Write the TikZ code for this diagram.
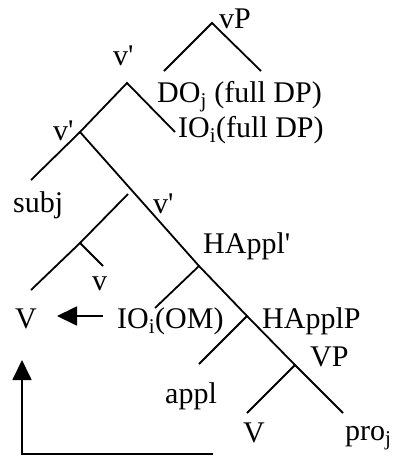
\documentclass[tikz,border=0pt]{standalone}
\usepackage{fontspec}
\setmainfont{Liberation Serif}
\usepackage{tikz}
\usetikzlibrary{arrows.meta}
\tikzset{
	lbl/.style={inner sep=0pt, anchor=base west},
	br/.style={line width=1.8pt},
	arr/.style={line width=1.8pt, -{Triangle[length=20pt, width=19pt]}}
}

\begin{document}
\begin{tikzpicture}[
        x=1pt, y=-1pt,
        font=\fontsize{30}{36}\selectfont,
        lbl/.style={inner sep=0pt, anchor=base west},
        br/.style={line width=1.8pt},
        arr/.style={line width=1.8pt, -{Triangle[length=20pt, width=19pt]}}
    ]
        \useasboundingbox (0, 0) rectangle (396, 456);

        \node[lbl] (vP) at (219, 28) {vP};
        \node[lbl] (vbar-a) at (113, 65) {v\textquotesingle};
        \node[lbl] (do) at (157, 102) {DO\textsubscript{j} (full DP)};
        \node[lbl] (io) at (178, 137) {IO\textsubscript{i}(full DP)};
        \node[lbl] (vbar-b) at (53, 140) {v\textquotesingle};
        \node[lbl] (subj) at (13, 212) {subj};
        \node[lbl] (vbar-c) at (153, 213) {v\textquotesingle};
        \node[lbl] (happl) at (203, 253) {HAppl\textquotesingle};
        \node[lbl] (vsm) at (92, 290) {v};
        \node[lbl] (vl) at (15, 328) {V};
        \node[lbl] (iom) at (117, 328) {IO\textsubscript{i}(OM)};
        \node[lbl] (happlp) at (262, 328) {HApplP};
        \node[lbl] (VP) at (310, 366) {VP};
        \node[lbl] (appl) at (165, 403) {appl};
        \node[lbl] (vlow) at (243, 442) {V};
        \node[lbl] (pro) at (345, 440) {pro\textsubscript{j}};

        \coordinate (vP-top) at (212, 23);
        \coordinate (vP-l) at (164, 71);
        \coordinate (vP-r) at (261, 71);
        \coordinate (va-top) at (127, 83);
        \coordinate (va-r) at (175, 132);
        \coordinate (vb-top) at (80, 132);
        \coordinate (subj-end) at (31, 180);
        \coordinate (vc-top) at (128, 194);
        \coordinate (v-join) at (80, 243);
        \coordinate (v-end) at (103, 266);
        \coordinate (V-end) at (31, 290);
        \coordinate (ha-top) at (199, 266);
        \coordinate (io-end) at (155, 308);
        \coordinate (hp-top) at (247, 316);
        \coordinate (appl-end) at (199, 364);
        \coordinate (VP-top) at (295, 365);
        \coordinate (V-low) at (247, 413);
        \coordinate (pro-end) at (343, 413);

        \coordinate (om-tail) at (103, 316);
        \coordinate (om-tip) at (57, 316);
        \coordinate (mv-start) at (213, 454);
        \coordinate (mv-tip) at (22, 360);

        \draw[br] (vP-l) -- (vP-top) -- (vP-r);
        \draw[br] (subj-end) -- (vb-top) -- (va-top) -- (va-r);
        \draw[br] (vb-top) -- (ha-top) -- (hp-top) -- (VP-top) -- (pro-end);
        \draw[br] (vc-top) -- (v-join) -- (V-end);
        \draw[br] (v-join) -- (v-end);
        \draw[br] (ha-top) -- (io-end);
        \draw[br] (hp-top) -- (appl-end);
        \draw[br] (VP-top) -- (V-low);

        \draw[arr] (om-tail) -- (om-tip);
        \draw[arr] (mv-start) -| (mv-tip);
    \end{tikzpicture}
\end{document}
